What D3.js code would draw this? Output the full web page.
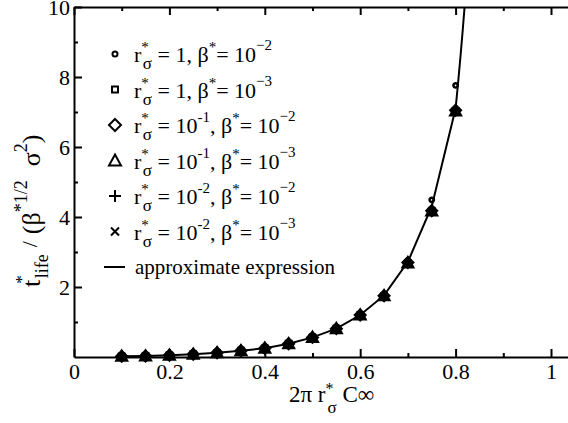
<!DOCTYPE html>
<html>
<head>
<meta charset="utf-8">
<script src="https://cdn.jsdelivr.net/npm/d3@7"></script>
<style>
  body { margin: 0; background: #fff; }
</style>
</head>
<body>
<div id="chart"></div>
<script>
// x values of the simulation points
var xs = [0.1, 0.15, 0.2, 0.25, 0.3, 0.35, 0.4, 0.45, 0.5, 0.55, 0.6, 0.65, 0.7, 0.75, 0.8];

// series
var r1_b2   = [0.02, 0.03, 0.05, 0.08, 0.12, 0.18, 0.26, 0.39, 0.57, 0.82, 1.22, 1.77, 2.74, 4.49, 7.76];
var r1_b3   = [0.02, 0.03, 0.05, 0.08, 0.12, 0.18, 0.25, 0.38, 0.56, 0.81, 1.20, 1.75, 2.69, 4.18, 7.03];
var r01_b2  = [0.02, 0.03, 0.05, 0.08, 0.12, 0.18, 0.25, 0.38, 0.56, 0.81, 1.20, 1.75, 2.70, 4.18, 7.05];
var r01_b3  = [0.02, 0.03, 0.05, 0.08, 0.12, 0.18, 0.25, 0.38, 0.56, 0.81, 1.20, 1.75, 2.69, 4.17, 7.03];
var r001_b2 = [0.02, 0.03, 0.05, 0.08, 0.12, 0.18, 0.25, 0.38, 0.56, 0.81, 1.20, 1.75, 2.70, 4.18, 7.05];
var r001_b3 = [0.02, 0.03, 0.05, 0.08, 0.12, 0.18, 0.25, 0.38, 0.56, 0.81, 1.20, 1.75, 2.69, 4.17, 7.03];

// approximate expression curve
var curveX = [0.1, 0.15, 0.2, 0.25, 0.3, 0.35, 0.4, 0.45, 0.5, 0.55, 0.6, 0.65, 0.7, 0.75, 0.8, 0.805, 0.81, 0.815, 0.82, 0.825];
var curveY = [0.02, 0.03, 0.05, 0.08, 0.12, 0.18, 0.25, 0.38, 0.56, 0.81, 1.20, 1.76, 2.72, 4.30, 7.10, 7.80, 8.55, 9.35, 10.2, 11.0];

var xTicks = [0, 0.2, 0.4, 0.6, 0.8, 1];
var xMinor = [0.1, 0.3, 0.5, 0.7, 0.9];
var yTicks = [2, 4, 6, 8, 10];
var yMinor = [1, 3, 5, 7, 9];

var width = 568, height = 423;

var svg = d3.select("#chart").append("svg")
  .attr("width", width)
  .attr("height", height);

// x axis keeps going past 1, the frame is cropped on the right
var x = d3.scaleLinear().domain([0, 1.06]).range([74, 74 + 1.06 * 477]);
var y = d3.scaleLinear().domain([0, 10]).range([357, 7]);

svg.append("defs").append("clipPath").attr("id", "clip")
  .append("rect")
  .attr("x", x(0)).attr("y", y(10))
  .attr("width", x(1.06) - x(0)).attr("height", y(0) - y(10));

var fmt = d3.format("~g");

// bottom axis
svg.append("g").attr("transform", `translate(0,${y(0)})`)
  .call(d3.axisBottom(x).tickValues(xTicks).tickFormat(fmt).tickSizeInner(-8).tickSizeOuter(0).tickPadding(6));
svg.append("g").attr("transform", `translate(0,${y(0)})`)
  .call(d3.axisBottom(x).tickValues(xMinor).tickFormat("").tickSizeInner(-4).tickSizeOuter(0))
  .select(".domain").remove();

// top axis
svg.append("g").attr("transform", `translate(0,${y(10)})`)
  .call(d3.axisTop(x).tickValues(xTicks).tickFormat("").tickSizeInner(-8).tickSizeOuter(0));
svg.append("g").attr("transform", `translate(0,${y(10)})`)
  .call(d3.axisTop(x).tickValues(xMinor).tickFormat("").tickSizeInner(-4).tickSizeOuter(0))
  .select(".domain").remove();

// left axis
svg.append("g").attr("transform", `translate(${x(0)},0)`)
  .call(d3.axisLeft(y).tickValues(yTicks).tickFormat(fmt).tickSizeInner(-8).tickSizeOuter(0).tickPadding(4));
svg.append("g").attr("transform", `translate(${x(0)},0)`)
  .call(d3.axisLeft(y).tickValues(yMinor).tickFormat("").tickSizeInner(-4).tickSizeOuter(0))
  .select(".domain").remove();

svg.selectAll(".domain").attr("stroke-width", 2);
svg.selectAll(".tick line").attr("stroke-width", 2);
svg.selectAll(".tick text").attr("font-size", 22).attr("fill", "#000");

// curve
var line = d3.line().x(d => x(d[0])).y(d => y(d[1]));
svg.append("path")
  .datum(d3.zip(curveX, curveY))
  .attr("clip-path", "url(#clip)")
  .attr("fill", "none")
  .attr("stroke", "#000")
  .attr("stroke-width", 2)
  .attr("d", line);

// markers
var series = [
  { vals: r1_b2,   kind: "circle",   label: ["1", "−2"] },
  { vals: r1_b3,   kind: "square",   label: ["1", "−3"] },
  { vals: r01_b2,  kind: "diamond",  label: ["10", "-1", "−2"] },
  { vals: r01_b3,  kind: "triangle", label: ["10", "-1", "−3"] },
  { vals: r001_b2, kind: "plus",     label: ["10", "-2", "−2"] },
  { vals: r001_b3, kind: "times",    label: ["10", "-2", "−3"] }
];

function markerPath(kind, k) {
  switch (kind) {
    case "circle":   return d3.symbol(d3.symbolCircle, 20 * k * k)();
    case "square":   return `M${-3*k},${-3*k}h${6*k}v${6*k}h${-6*k}Z`;
    case "diamond":  return `M0,${-6*k}L${6*k},0L0,${6*k}L${-6*k},0Z`;
    case "triangle": return `M0,${-6*k}L${6*k},${5*k}L${-6*k},${5*k}Z`;
    case "plus":     return `M${-6*k},0H${6*k}M0,${-6*k}V${6*k}`;
    case "times":    return `M${-4*k},${-4*k}L${4*k},${4*k}M${-4*k},${4*k}L${4*k},${-4*k}`;
  }
}

function drawMarker(g, s, k, sw) {
  g.append("path").attr("d", markerPath(s.kind, k))
    .attr("fill", "none").attr("stroke", "#000").attr("stroke-width", sw);
}

series.slice().reverse().forEach(function(s) {
  svg.append("g").selectAll("g")
    .data(d3.zip(xs, s.vals))
    .join("g")
    .attr("transform", d => `translate(${x(d[0])},${y(d[1])})`)
    .each(function() { drawMarker(d3.select(this), s, 0.85, 2.6); });
});

// legend
var legY0 = 54, legStep = 35.5;
series.forEach(function(s, i) {
  var ly = legY0 + i * legStep;
  var g = svg.append("g").attr("transform", `translate(115,${ly})`);
  drawMarker(g, s, 1, 2);
  var t = svg.append("text").attr("x", 134).attr("y", ly + 8).attr("font-size", 22).attr("fill", "#000");
  t.append("tspan").text("r");
  t.append("tspan").attr("font-size", 15).attr("dy", -10).text("*");
  t.append("tspan").attr("font-size", 17).attr("dx", -6).attr("dy", 17).text("σ");
  t.append("tspan").attr("dy", -7).text(" = " + s.label[0]);
  if (s.label.length > 2) {
    t.append("tspan").attr("font-size", 15).attr("dy", -11).text(s.label[1]);
    t.append("tspan").attr("dy", 11).text(", β");
  } else {
    t.append("tspan").text(", β");
  }
  t.append("tspan").attr("font-size", 15).attr("dy", -10).text("*");
  t.append("tspan").attr("dy", 10).text("= 10");
  t.append("tspan").attr("font-size", 15).attr("dy", -12).text(s.label[s.label.length - 1]);
});
var lastY = legY0 + 6 * legStep;
svg.append("line").attr("x1", 104).attr("x2", 125).attr("y1", lastY).attr("y2", lastY)
  .attr("stroke", "#000").attr("stroke-width", 2);
svg.append("text").attr("x", 135).attr("y", lastY + 7).attr("font-size", 21).attr("fill", "#000")
  .text("approximate expression");

// x label
var xl = svg.append("text").attr("x", 289).attr("y", 402).attr("font-size", 23).attr("fill", "#000");
xl.append("tspan").text("2π r");
xl.append("tspan").attr("font-size", 16).attr("dy", -8).text("*");
xl.append("tspan").attr("font-size", 17).attr("dx", -6).attr("dy", 19).text("σ");
xl.append("tspan").attr("dy", -11).text(" C∞");

// y label
var yl = svg.append("text")
  .attr("transform", "translate(40,287) rotate(-90)")
  .attr("font-size", 26).attr("fill", "#000");
yl.append("tspan").text("t");
yl.append("tspan").attr("font-size", 17).attr("dx", -4).attr("dy", -13).text("*");
yl.append("tspan").attr("font-size", 18).attr("dx", -3).attr("dy", 21).text("life");
yl.append("tspan").attr("font-size", 22).attr("dx", 7).attr("dy", -11).text("/");
yl.append("tspan").attr("dx", 7).attr("dy", 3).text("(β");
yl.append("tspan").attr("font-size", 18).attr("dy", -13).text("*1/2");
yl.append("tspan").attr("dx", 14).attr("dy", 13).text("σ");
yl.append("tspan").attr("font-size", 18).attr("dy", -13).text("2");
yl.append("tspan").attr("dy", 13).text(")");

// serif face everywhere, set inline so nothing overrides it
svg.selectAll("text, g").style("font-family", "'Liberation Serif'");
</script>
</body>
</html>
